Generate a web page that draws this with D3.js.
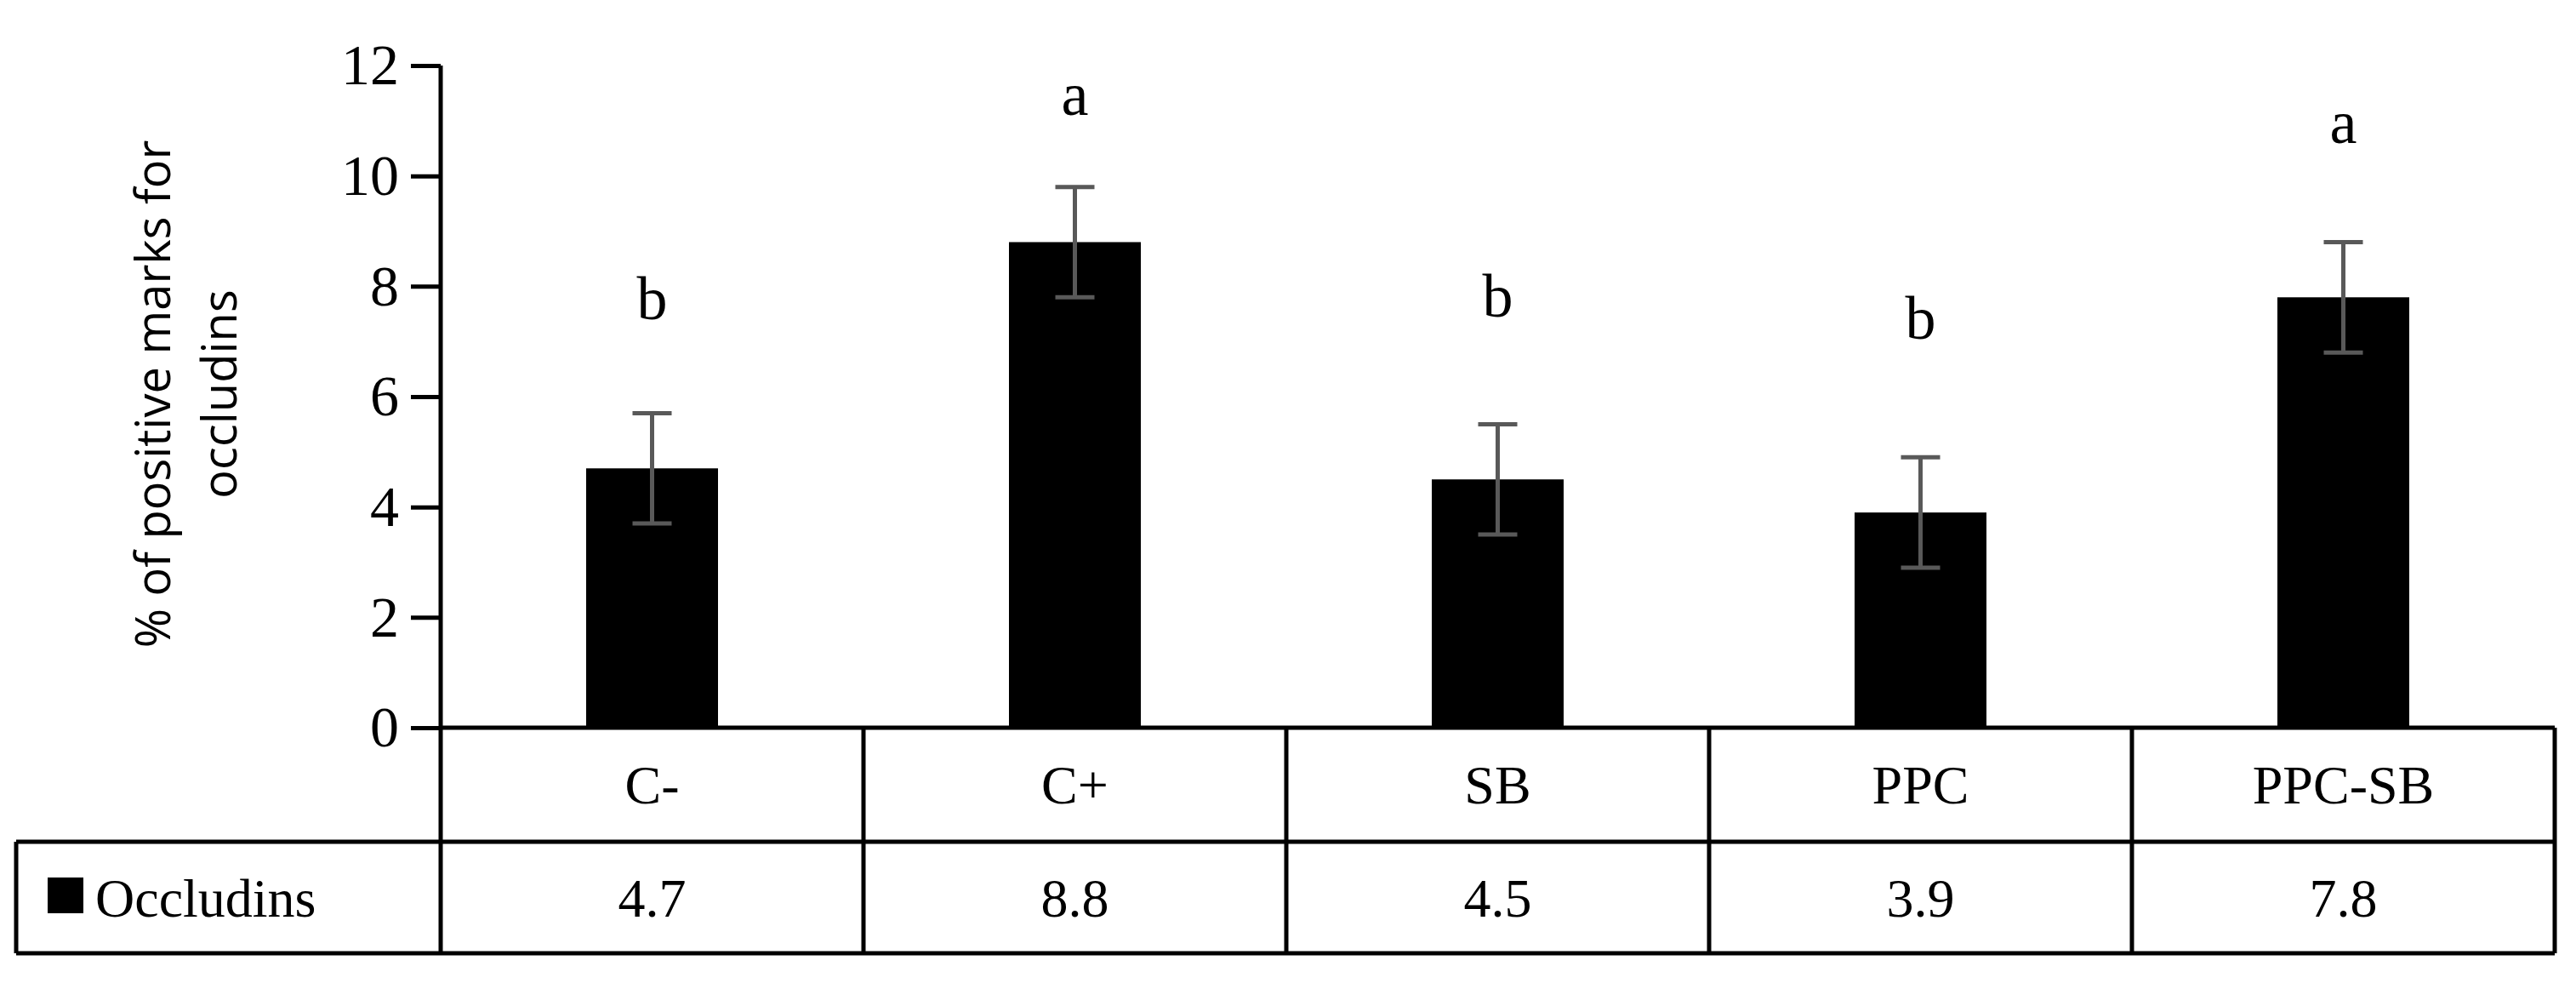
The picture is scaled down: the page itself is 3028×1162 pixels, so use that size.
<!DOCTYPE html>
<html>
<head>
<meta charset="utf-8">
<script src="https://cdn.jsdelivr.net/npm/d3@7"></script>
<style>
  body { margin: 0; background: #fff; }
</style>
</head>
<body>
<div id="chart"></div>
<script>
// data
var groups = ["C-", "C+", "SB", "PPC", "PPC-SB"];
var values = [4.7, 8.8, 4.5, 3.9, 7.8];
var errors = [1, 1, 1, 1, 1];
var letters = ["b", "a", "b", "b", "a"];
var letterAt = [7.4, 11.1, 7.45, 7.05, 10.6]; // baseline in axis units
var yTicks = [0, 2, 4, 6, 8, 10, 12];
var seriesName = "Occludins";

var W = 3028, H = 1162;
var axisX = 518, right = 3003, tableLeft = 19;
var y0 = 855, y12 = 77, rowLine = 989, tableBottom = 1120;

var serif = "'Liberation Serif', 'DejaVu Serif', serif";

var svg = d3.select("#chart").append("svg")
  .attr("width", W).attr("height", H);

var x = d3.scaleBand().domain(groups).range([axisX, right]);
var y = d3.scaleLinear().domain([0, 12]).range([y0, y12]);
var barW = 155;

// y axis
var yAxis = svg.append("g")
  .attr("transform", "translate(" + axisX + ",0)")
  .call(d3.axisLeft(y).tickValues(yTicks).tickSize(35).tickPadding(14));
yAxis.selectAll("path, line").attr("stroke", "#000").attr("stroke-width", 5);
yAxis.select(".domain").attr("d", "M0," + y12 + "V" + y0);
yAxis.selectAll("text")
  .attr("font-family", serif).attr("font-size", 68).attr("fill", "#000");

// y title
var title = svg.append("text")
  .attr("transform", "translate(0,463) rotate(-90)")
  .attr("text-anchor", "middle")
  .attr("font-family", "'Open Sans', 'Liberation Sans', sans-serif")
  .attr("font-size", 56).attr("fill", "#000");
title.append("tspan").attr("x", 0).attr("y", 200).text("% of positive marks for");
title.append("tspan").attr("x", 0).attr("y", 278).text("occludins");

// bars
svg.selectAll("rect.bar").data(groups).enter().append("rect")
  .attr("class", "bar")
  .attr("x", function(d) { return x(d) + x.bandwidth() / 2 - barW / 2; })
  .attr("width", barW)
  .attr("y", function(d, i) { return y(values[i]); })
  .attr("height", function(d, i) { return y0 - y(values[i]); })
  .attr("fill", "#000");

// error bars
var eb = svg.selectAll("g.err").data(groups).enter().append("g")
  .attr("class", "err")
  .attr("stroke", "#595959").attr("stroke-width", 5);
eb.append("line")
  .attr("x1", function(d) { return x(d) + x.bandwidth() / 2; })
  .attr("x2", function(d) { return x(d) + x.bandwidth() / 2; })
  .attr("y1", function(d, i) { return y(values[i] - errors[i]); })
  .attr("y2", function(d, i) { return y(values[i] + errors[i]); });
[1, -1].forEach(function(s) {
  eb.append("line")
    .attr("x1", function(d) { return x(d) + x.bandwidth() / 2 - 23; })
    .attr("x2", function(d) { return x(d) + x.bandwidth() / 2 + 23; })
    .attr("y1", function(d, i) { return y(values[i] + s * errors[i]); })
    .attr("y2", function(d, i) { return y(values[i] + s * errors[i]); });
});

// significance letters
svg.selectAll("text.letter").data(groups).enter().append("text")
  .attr("x", function(d) { return x(d) + x.bandwidth() / 2; })
  .attr("y", function(d, i) { return y(letterAt[i]); })
  .attr("text-anchor", "middle")
  .attr("font-family", serif).attr("font-size", 72)
  .text(function(d, i) { return letters[i]; });

// data table
var tbl = svg.append("g").attr("stroke", "#000").attr("stroke-width", 5).attr("fill", "none");
tbl.append("line").attr("x1", axisX).attr("x2", right).attr("y1", y0).attr("y2", y0);
tbl.append("line").attr("x1", tableLeft).attr("x2", right).attr("y1", rowLine).attr("y2", rowLine);
tbl.append("line").attr("x1", tableLeft).attr("x2", right).attr("y1", tableBottom).attr("y2", tableBottom);
tbl.append("line").attr("x1", tableLeft).attr("x2", tableLeft).attr("y1", rowLine).attr("y2", tableBottom);
groups.forEach(function(g) {
  var xr = x(g) + x.bandwidth();
  tbl.append("line").attr("x1", xr).attr("x2", xr).attr("y1", y0).attr("y2", tableBottom);
});
tbl.append("line").attr("x1", axisX).attr("x2", axisX).attr("y1", y0).attr("y2", tableBottom);

svg.selectAll("text.cat").data(groups).enter().append("text")
  .attr("x", function(d) { return x(d) + x.bandwidth() / 2; })
  .attr("y", (y0 + rowLine) / 2 + 22)
  .attr("text-anchor", "middle")
  .attr("font-family", serif).attr("font-size", 64)
  .text(function(d) { return d; });

svg.selectAll("text.val").data(values).enter().append("text")
  .attr("x", function(d, i) { return x(groups[i]) + x.bandwidth() / 2; })
  .attr("y", (rowLine + tableBottom) / 2 + 22)
  .attr("text-anchor", "middle")
  .attr("font-family", serif).attr("font-size", 64)
  .text(function(d) { return d.toFixed(1); });

// legend key in table
svg.append("rect").attr("x", 56).attr("y", 1031).attr("width", 42).attr("height", 42).attr("fill", "#000");
svg.append("text").attr("x", 112).attr("y", (rowLine + tableBottom) / 2 + 22)
  .attr("font-family", serif).attr("font-size", 64).text(seriesName);
</script>
</body>
</html>
